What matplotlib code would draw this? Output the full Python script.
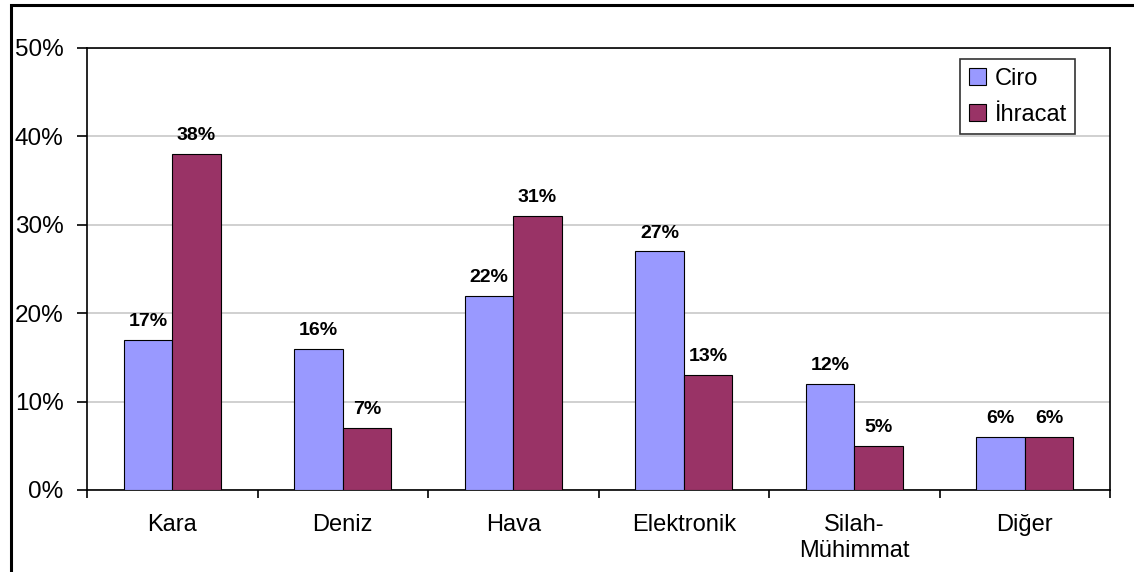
import numpy as np
import matplotlib.pyplot as plt
from matplotlib.patches import Rectangle
from matplotlib.ticker import FuncFormatter, MultipleLocator

plt.rcParams['font.family'] = ['Liberation Sans', 'DejaVu Sans']

# data (percent)
categories = ['Kara', 'Deniz', 'Hava', 'Elektronik', 'Silah-\nMühimmat', 'Diğer']
ciro = [17, 16, 22, 27, 12, 6]
ihracat = [38, 7, 31, 13, 5, 6]
series_names = ['Ciro', 'İhracat']
colors = ['#9999FF', '#993366']

fig = plt.figure(figsize=(11.34, 5.72), dpi=100)
ax = fig.add_axes([87 / 1134, 1 - 490 / 572, (1110 - 87) / 1134, (490 - 48) / 572])

x = np.arange(len(categories))
w = 0.285
for vals, off, col, name in [(ciro, -w / 2, colors[0], series_names[0]),
                             (ihracat, w / 2, colors[1], series_names[1])]:
    bars = ax.bar(x + off, vals, w, color=col, edgecolor='black', linewidth=0.8,
                  label=name, zorder=3)
    for b, v in zip(bars, vals):
        ax.annotate(f'{v}%', (b.get_x() + b.get_width() / 2, v),
                    xytext=(0, 7), textcoords='offset points',
                    ha='center', va='bottom', fontsize=14, fontweight='bold')

ax.set_xlim(-0.5, len(categories) - 0.5)
ax.set_ylim(0, 50)
ax.yaxis.set_major_locator(MultipleLocator(10))
ax.yaxis.set_major_formatter(FuncFormatter(lambda v, p: f'{v:.0f}%'))
ax.grid(axis='y', color='#c8c8c8', linewidth=1.2, zorder=0)

# category labels centered, ticks at group boundaries
ax.set_xticks(x)
ax.set_xticklabels(categories, fontsize=17, linespacing=1.25)
ax.tick_params(axis='x', length=0, pad=17)
ax.set_xticks(np.arange(-0.5, len(categories)), minor=True)
ax.tick_params(axis='x', which='minor', length=6, width=1.2, direction='out')
ax.tick_params(axis='y', labelsize=17.5, length=7, width=1.2, direction='out', pad=10)

for s in ax.spines.values():
    s.set_linewidth(1.2)

leg = ax.legend(loc='upper right', bbox_to_anchor=(0.966, 0.974), fontsize=17,
                frameon=True, fancybox=False, edgecolor='black',
                handlelength=0.75, handleheight=0.75, handletextpad=0.35,
                borderpad=0.35, labelspacing=0.6, borderaxespad=0)
leg.get_frame().set_linewidth(1.2)

# outer frame (left and top visible)
fig.patches.append(Rectangle((11 / 1134, -0.05), 1.2, 1 - 5 / 572 + 0.05,
                             transform=fig.transFigure, fill=False,
                             edgecolor='black', linewidth=2.2, clip_on=False))

fig.savefig('out.png', dpi=100)
